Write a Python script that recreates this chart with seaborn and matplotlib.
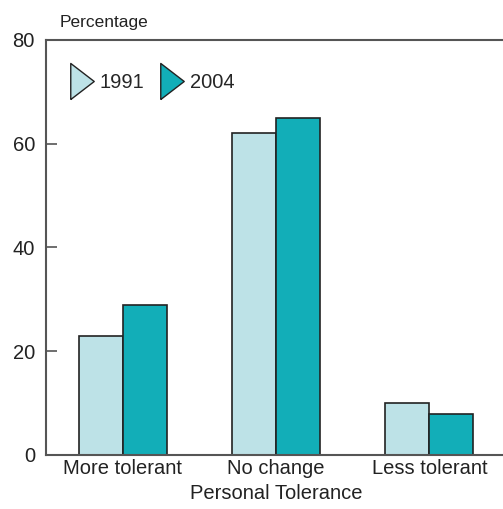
import pandas as pd
import matplotlib.pyplot as plt
import seaborn as sns
from matplotlib.lines import Line2D

categories = ['More tolerant', 'No change', 'Less tolerant']
years = ['1991', '2004']
values_1991 = [23, 62, 10]
values_2004 = [29, 65, 8]
colors = ['#bde2e7', '#12aeb8']

df = pd.DataFrame({
    'Tolerance': categories * 2,
    'Year': [years[0]] * 3 + [years[1]] * 3,
    'Percentage': values_1991 + values_2004,
})

sns.set_style('white')
plt.rcParams['font.family'] = ['Liberation Sans', 'DejaVu Sans']

fig = plt.figure(figsize=(5.03, 5.09), dpi=100)
ax = fig.add_axes([46 / 503, 54 / 509, 460 / 503, 415 / 509])

sns.barplot(data=df, x='Tolerance', y='Percentage', hue='Year',
            palette=colors, saturation=1, width=0.575, gap=0,
            edgecolor='#222222', linewidth=1.2, ax=ax, legend=False)

ax.set_xlim(-0.5, 2.5)
ax.set_ylim(0, 80)
ax.set_yticks([0, 20, 40, 60, 80])
ax.tick_params(axis='y', direction='in', length=8, width=1.2, color='#555555',
               labelsize=14.5, pad=8, left=True)
ax.tick_params(axis='x', length=0, labelsize=14.5, pad=3)
ax.set_ylabel('')
ax.set_xlabel('Personal Tolerance', fontsize=14.5, labelpad=4, color='#222222')
for lbl in ax.get_xticklabels() + ax.get_yticklabels():
    lbl.set_color('#222222')

for side in ['left', 'top', 'bottom']:
    ax.spines[side].set_visible(True)
    ax.spines[side].set_color('#555555')
    ax.spines[side].set_linewidth(1.5)
ax.spines['right'].set_visible(False)

fig.text(60 / 503, 1 - 22 / 509, 'Percentage', fontsize=12.5, color='#222222',
         va='center', ha='left')

tri = [(-0.65, -1), (0.65, 0), (-0.65, 1), (-0.65, -1)]
handles = [Line2D([], [], marker=tri, linestyle='none', markersize=26,
                  markerfacecolor=c, markeredgecolor='#222222', markeredgewidth=1)
           for c in colors]
ax.legend(handles, years, loc='upper left', bbox_to_anchor=(0.012, 0.965),
          ncol=2, frameon=False, fontsize=14.5, handlelength=1.2,
          handletextpad=0.3, columnspacing=0.75)

fig.savefig('out.png', dpi=100)
